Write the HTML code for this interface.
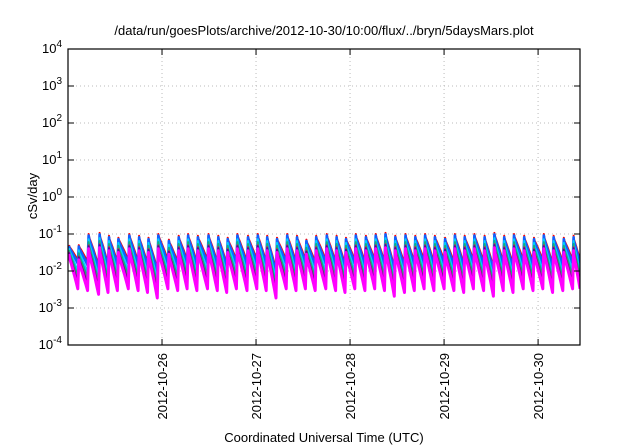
<!DOCTYPE html>
<html><head><meta charset="utf-8"><style>
body{margin:0;background:#fff;}
svg{display:block;font-family:"Liberation Sans",sans-serif;}
</style></head><body>
<svg id="chart" width="640" height="448" viewBox="0 0 640 448" xmlns="http://www.w3.org/2000/svg">
<rect width="640" height="448" fill="#fff"/>
<text x="324" y="35" font-size="13" text-anchor="middle">/data/run/goesPlots/archive/2012-10-30/10:00/flux/../bryn/5daysMars.plot</text>
<text transform="translate(37,196) rotate(-90)" font-size="13" text-anchor="middle">cSv/day</text>
<text x="324" y="442" font-size="13" text-anchor="middle">Coordinated Universal Time (UTC)</text>
<g id="grid"></g><g id="series"></g><g id="axes"></g>
</svg>
<script>
const yTicks=[-4,-3,-2,-1,0,1,2,3,4];
const xTickDays=[1,2,3,4,5];
const xTickLabels=["2012-10-26","2012-10-27","2012-10-28","2012-10-29","2012-10-30"];
const riseHours=[2.5,5.0,7.8,10.2,12.6,15.4,17.9,20.3,22.8,25.5,28.0,30.4,32.9,35.6,38.1,40.5,43.0,45.7,48.2,50.6,53.1,55.7,58.2,60.6,63.1,65.8,68.3,70.7,73.2,75.8,78.3,80.8,83.3,85.9,88.4,90.9,93.4,96.0,98.5,101.0,103.5,106.1,108.6,111.1,113.6,116.2,118.7,121.2,123.7,126.3,128.8];
const redPeakLog=[-1.3,-1.0,-0.97,-1.05,-1.1,-1.0,-1.05,-1.1,-1.0,-1.15,-1.05,-1.0,-1.05,-1.0,-1.05,-1.1,-1.0,-1.05,-1.0,-1.05,-1.1,-1.0,-1.05,-1.15,-1.05,-1.0,-1.05,-1.1,-1.0,-1.05,-1.0,-0.97,-1.05,-1.0,-1.05,-1.0,-1.05,-1.1,-1.0,-1.05,-1.0,-1.05,-0.97,-1.05,-1.0,-1.05,-1.1,-1.0,-1.05,-1.1,-1.05];
const redTroughLog=[-1.7,-1.75,-1.85,-1.8,-1.75,-1.7,-1.75,-1.8,-1.95,-1.7,-1.75,-1.7,-1.75,-1.7,-1.75,-1.8,-1.7,-1.75,-1.7,-1.75,-1.95,-1.7,-1.75,-1.7,-1.75,-1.7,-1.75,-1.8,-1.7,-1.75,-1.7,-1.75,-1.9,-1.8,-1.75,-1.7,-1.75,-1.7,-1.75,-1.8,-1.7,-1.75,-1.9,-1.75,-1.8,-1.7,-1.75,-1.7,-1.8,-1.75,-1.7];
const seriesColors=["#ff0000","#1060ff","#00d0ff","#10b080","#a05050","#e0e000","#6000a0","#ff00ff"];
const seriesPeakOffset=[0,-0.04,-0.14,-0.22,-0.3,-0.36,-0.33,-0.4];
const seriesTroughOffset=[0,-0.1,-0.3,-0.45,-0.6,-0.68,-0.64,-0.78];
const startHour=0, endHour=130.7, startLog=-1.3;
const X0=68,X1=580,Y0=345,Y1=49;
const xs=h=>X0+(h-startHour)/(endHour-startHour)*(X1-X0);
const ys=v=>Y0-(v+4)/8*(Y0-Y1);
const NS="http://www.w3.org/2000/svg";
function mk(t,a,p){const e=document.createElementNS(NS,t);for(const k in a)e.setAttribute(k,a[k]);p.appendChild(e);return e;}
const grid=document.getElementById('grid'),axes=document.getElementById('axes'),ser=document.getElementById('series');
yTicks.forEach((v,i)=>{
 const y=ys(v);
 if(i>0&&i<yTicks.length-1){const g=mk('line',{x1:X0,x2:X1,y1:y,y2:y,stroke:'#bbb','stroke-dasharray':'1,3','stroke-width':1},grid);
 
 }
 mk('line',{x1:X0,x2:X0+6,y1:y,y2:y,stroke:'#000'},axes);
 mk('line',{x1:X1,x2:X1-6,y1:y,y2:y,stroke:'#000'},axes);
 const t=mk('text',{x:X0-6,y:y+4,'font-size':13,'text-anchor':'end'},axes);
 
 
 t.textContent='10';
 const s=mk('tspan',{dy:-6,'font-size':10},t);s.textContent=String(v);
});
xTickDays.forEach((d,i)=>{
 const x=xs(d*24);
 const g=mk('line',{x1:x,x2:x,y1:Y1,y2:Y0,stroke:'#bbb','stroke-dasharray':'1,3'},grid);
 
 
 mk('line',{x1:x,x2:x,y1:Y0,y2:Y0-6,stroke:'#000'},axes);
 mk('line',{x1:x,x2:x,y1:Y1,y2:Y1+6,stroke:'#000'},axes);
 const t=mk('text',{transform:`translate(${x+5},${Y0+8}) rotate(-90)`,'font-size':13,'text-anchor':'end'},axes);
 
 
 t.textContent=xTickLabels[i];
});
const fr=mk('rect',{x:X0,y:Y1,width:X1-X0,height:Y0-Y1,fill:'none',stroke:'#000','stroke-width':1.2},axes);


const order=[0,1,2,3,4,5,6,7];
order.forEach(si=>{
 const c=seriesColors[si];
 const pts=[];
 const decay=(h0,h1,p,tr)=>{for(let k=0;k<=6;k++){const f=k/6;const v=p+(tr-p)*Math.pow(f,1.15);pts.push([xs(h0+(h1-h0)*f)+(k==0?1:0),ys(v)]);}};
 decay(startHour,riseHours[0],startLog+seriesPeakOffset[si]*0.6,redTroughLog[0]+seriesTroughOffset[si]);
 riseHours.forEach((h,i)=>{
  const nh=i<riseHours.length-1?riseHours[i+1]:endHour;
  const tr=(i<riseHours.length-1?redTroughLog[i+1]:redTroughLog[i])+seriesTroughOffset[si];
  decay(h,nh,redPeakLog[i]+seriesPeakOffset[si],tr);
 });
 const p=mk('polyline',{points:pts.map(q=>q[0].toFixed(1)+','+q[1].toFixed(1)).join(' '),fill:'none',stroke:c,'stroke-width':si==7?3:(si==1?2.6:2),'stroke-linejoin':'round','clip-path':'url(#clip)'},ser);
 
 
});
const defs=mk('defs',{},document.getElementById('chart'));
const cp=mk('clipPath',{id:'clip'},defs);mk('rect',{x:X0,y:Y1,width:X1-X0,height:Y0-Y1},cp);
</script>
</body></html>
